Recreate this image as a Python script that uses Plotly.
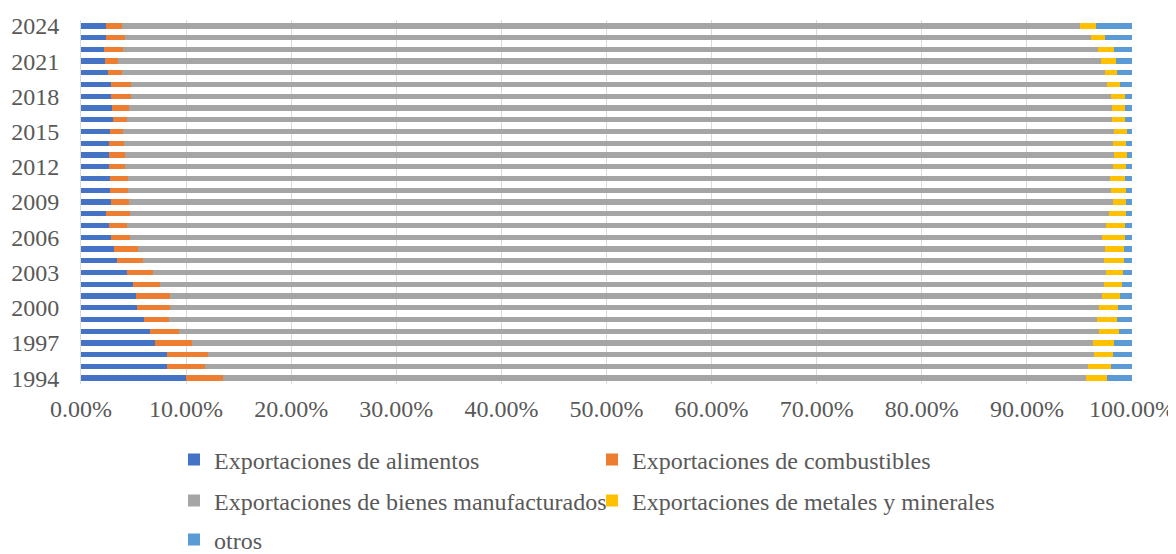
import plotly.graph_objects as go

years = [str(y) for y in range(1994, 2025)]

alimentos = [9.97, 8.19, 8.19, 7.08, 6.60, 6.00, 5.36, 5.27, 4.95, 4.41, 3.46, 3.17, 2.86, 2.70, 2.38, 2.86,
             2.76, 2.80, 2.70, 2.70, 2.63, 2.76, 3.08, 2.98, 2.86, 2.86, 2.60, 2.30, 2.20, 2.40, 2.40]
combustibles = [3.49, 3.59, 3.90, 3.52, 2.76, 2.41, 3.14, 3.24, 2.57, 2.48, 2.44, 2.29, 1.81, 1.68, 2.29, 1.74,
                1.70, 1.70, 1.52, 1.52, 1.50, 1.20, 1.33, 1.62, 1.90, 1.90, 1.30, 1.25, 1.80, 1.80, 1.50]
manufacturados = [82.15, 84.06, 84.28, 85.72, 87.50, 88.29, 88.33, 88.65, 89.85, 90.60, 91.44, 92.00, 92.48, 93.15,
                  93.14, 93.62, 93.55, 93.40, 94.00, 94.03, 94.04, 94.32, 93.73, 93.53, 93.30, 92.92, 93.56, 93.50,
                  92.74, 91.93, 91.18]
metales = [1.94, 2.16, 1.84, 2.00, 1.94, 1.88, 1.84, 1.74, 1.65, 1.64, 1.90, 1.78, 2.15, 1.80, 1.62, 1.18,
           1.40, 1.43, 1.21, 1.27, 1.27, 1.23, 1.17, 1.23, 1.36, 1.27, 1.11, 1.43, 1.55, 1.33, 1.52]
otros = [2.41, 2.00, 1.78, 1.68, 1.20, 1.42, 1.33, 1.11, 0.98, 0.86, 0.76, 0.76, 0.70, 0.67, 0.57, 0.60,
         0.57, 0.67, 0.57, 0.48, 0.57, 0.48, 0.70, 0.64, 0.64, 1.11, 1.43, 1.52, 1.71, 2.54, 3.40]

series_names = ["Exportaciones de alimentos", "Exportaciones de combustibles",
                "Exportaciones de bienes manufacturados", "Exportaciones de metales y minerales", "otros"]
series_values = [alimentos, combustibles, manufacturados, metales, otros]
colors = ["#4472C4", "#ED7D31", "#A5A5A5", "#FFC000", "#5B9BD5"]
legend_ids = ["legend", "legend", "legend2", "legend2", "legend3"]

y_tick_labels = [str(y) for y in range(1994, 2025, 3)]

FONT = "Liberation Serif"
TXT = "#595959"
FS = 24

# page body has an 8px margin, so the figure is sized to fit the window
W, H = 1168, 546

fig = go.Figure()
for name, vals, col, lg in zip(series_names, series_values, colors, legend_ids):
    fig.add_trace(go.Bar(
        y=years, x=vals, name=name, orientation="h",
        marker=dict(color=col, line=dict(width=0)),
        legend=lg,
    ))

legend_common = dict(
    orientation="h", xref="container", yref="container",
    xanchor="left", yanchor="middle", traceorder="normal",
    font=dict(family=FONT, size=FS, color=TXT),
    entrywidth=373, bgcolor="rgba(0,0,0,0)", itemclick=False, itemdoubleclick=False,
)
LX = 166 / W

fig.update_layout(
    width=W, height=H,
    barmode="stack", barnorm="fraction", bargap=0.55,
    paper_bgcolor="white", plot_bgcolor="white",
    margin=dict(l=73, r=44, t=12, b=170, autoexpand=False),
    font=dict(family=FONT, size=FS, color=TXT),
    xaxis=dict(range=[0, 1], dtick=0.1, tickformat=".2%", showgrid=True, gridcolor="#D9D9D9",
               gridwidth=1, zeroline=False, showline=False, ticks="", automargin=False,
               ticklabelstandoff=8,
               tickfont=dict(family=FONT, size=FS, color=TXT)),
    yaxis=dict(type="category", categoryorder="array", categoryarray=years,
               tickvals=y_tick_labels, ticktext=y_tick_labels, automargin=False,
               ticklabelstandoff=16,
               showline=True, linecolor="#D9D9D9", linewidth=1, ticks="", showgrid=False,
               tickfont=dict(family=FONT, size=FS, color=TXT)),
    legend=dict(x=LX, y=1 - 452 / H, **legend_common),
    legend2=dict(x=LX, y=1 - 493 / H, **legend_common),
    legend3=dict(x=LX, y=1 - 532 / H, **legend_common),
)

fig.write_html("out.html")
